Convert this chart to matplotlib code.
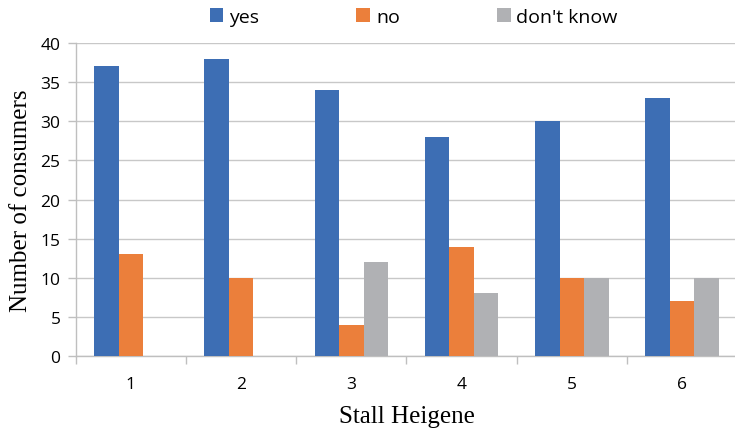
import matplotlib
matplotlib.use("Agg")
import matplotlib.pyplot as plt
import numpy as np

stalls = ["1", "2", "3", "4", "5", "6"]
yes = [37, 38, 34, 28, 30, 33]
no = [13, 10, 4, 14, 10, 7]
dont_know = [0, 0, 12, 8, 10, 10]
series_names = ["yes", "no", "don't know"]
colors = ["#3D6EB4", "#EB7F3B", "#B0B1B4"]

fig = plt.figure(figsize=(7.35, 4.35), dpi=100)
ax = fig.add_axes([0.103, 0.179, 0.9, 0.72])

x = np.arange(len(stalls))
w = 0.222
for i, (vals, name, c) in enumerate(zip([yes, no, dont_know], series_names, colors)):
    ax.bar(x + (i - 1) * w, vals, width=w, color=c, label=name, zorder=3)

ax.set_xlim(-0.5, 5.5)
ax.set_ylim(0, 40)
ax.set_yticks(range(0, 41, 5))
ax.yaxis.grid(True, color="#C8C8C8", linewidth=1.0, zorder=0)
ax.set_axisbelow(True)

for s in ["top", "right"]:
    ax.spines[s].set_visible(False)
for s in ["left", "bottom"]:
    ax.spines[s].set_color("#BFBFBF")
    ax.spines[s].set_linewidth(1.0)

ax.set_xticks(x)
ax.set_xticklabels(stalls, fontsize=12.5, family="Open Sans")
ax.set_xticks(np.arange(-0.5, 6.0, 1.0), minor=True)
ax.tick_params(axis="x", which="major", length=0, pad=14)
ax.tick_params(axis="x", which="minor", length=6, color="#BFBFBF", width=1)
ax.tick_params(axis="y", length=6, color="#BFBFBF", width=1, pad=5)
for lbl in ax.get_yticklabels():
    lbl.set_fontsize(12.5)
    lbl.set_family("Open Sans")

ax.set_xlabel("Stall Heigene", fontsize=18, family="Liberation Serif", labelpad=10)
ax.set_ylabel("Number of consumers", fontsize=18, family="Liberation Serif", labelpad=6)

fig.legend(loc="upper center", bbox_to_anchor=(0.563, 1.02), ncol=3, frameon=False,
           prop={"family": "Open Sans", "size": 14}, handlelength=0.7, handleheight=0.7,
           handletextpad=0.3, columnspacing=5.0)

fig.savefig("out.png", dpi=100)
